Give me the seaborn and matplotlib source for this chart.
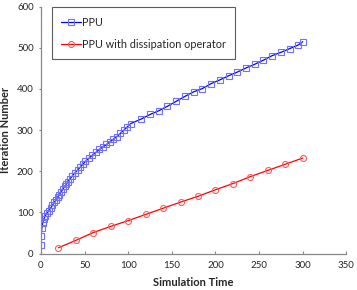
import matplotlib
matplotlib.use("Agg")
import matplotlib.pyplot as plt
import seaborn as sns
import pandas as pd

ppu_time = [0, 0, 1, 2, 3.5, 5, 7, 9, 11, 13, 15, 17, 19, 21, 23, 25, 27, 29, 31, 33,
            36, 39, 42, 45, 48, 51, 55, 59, 63, 67, 71, 75, 79, 83, 87, 91, 95, 99, 103,
            115, 125, 135, 145, 155, 165, 175, 185, 195, 205, 215, 225, 235, 245, 255,
            265, 275, 285, 295, 300]
ppu_iter = [20, 42, 62, 75, 85, 92, 98, 104, 110, 117, 124, 130, 137, 143, 150, 156, 163,
            169, 175, 181, 189, 196, 203, 210, 217, 224, 232, 239, 246, 253, 259, 265, 271,
            278, 284, 292, 300, 308, 316, 327, 338, 347, 358, 370, 382, 393, 401, 413, 422,
            432, 441, 451, 460, 470, 481, 489, 498, 507, 515]

diss_time = [20, 40, 60, 80, 100, 120, 140, 160, 180, 200, 220, 240, 260, 280, 300]
diss_iter = [14, 32, 51, 66, 80, 95, 110, 125, 139, 155, 170, 187, 202, 217, 232]

labels = ["PPU", "PPU with dissipation operator"]

sns.set_style("white")
plt.rcParams['font.family'] = ['Lato', 'DejaVu Sans']

fig = plt.figure(figsize=(3.57, 2.90), dpi=100)
ax = fig.add_axes([41/357, 1-253.5/290, (346.3-41)/357, (253.5-6.7)/290])

df1 = pd.DataFrame({"t": ppu_time, "it": ppu_iter})
df2 = pd.DataFrame({"t": diss_time, "it": diss_iter})

sns.lineplot(data=df1, x="t", y="it", ax=ax, sort=False, estimator=None,
             color="#0000ff", lw=0.9, marker="s", markersize=4.0,
             markerfacecolor="none", markeredgecolor="#7070ff", markeredgewidth=0.8,
             label=labels[0])
sns.lineplot(data=df2, x="t", y="it", ax=ax, sort=False, estimator=None,
             color="#ff0000", lw=0.9, marker="o", markersize=4.3,
             markerfacecolor="none", markeredgecolor="#ff5a5a", markeredgewidth=0.8,
             label=labels[1])

ax.set_xlim(0, 350)
ax.set_ylim(0, 600)
ax.set_xticks(range(0, 351, 50))
ax.set_yticks(range(0, 601, 100))
ax.tick_params(axis="both", labelsize=7, width=0.8, color="#888888",
               bottom=True, left=True)
ax.tick_params(axis="x", direction="in", length=2.5, pad=5.5)
ax.tick_params(axis="y", direction="out", length=1.8, pad=3.5)
for s in ["top", "right"]:
    ax.spines[s].set_visible(False)
for s in ["left", "bottom"]:
    ax.spines[s].set_color("#888888")
    ax.spines[s].set_linewidth(0.9)

ax.set_xlabel("Simulation Time", fontsize=8, fontweight="bold")
ax.xaxis.set_label_coords(0.5, -(277.5 - 253.5) / 246.8)
ax.set_ylabel("Iteration Number", fontsize=8, fontweight="bold")
ax.yaxis.set_label_coords(-(41 - 11) / 305.3, 0.5)

leg = ax.legend(loc="upper left", bbox_to_anchor=(52/357, 1-7.3/290),
                bbox_transform=fig.transFigure, borderaxespad=0, fontsize=7.8,
                frameon=True, fancybox=False, edgecolor="#333333",
                labelspacing=1.05, handlelength=1.8, handletextpad=0.1,
                borderpad=0.85)
leg.get_frame().set_linewidth(0.8)

fig.savefig("out.png", dpi=100)
